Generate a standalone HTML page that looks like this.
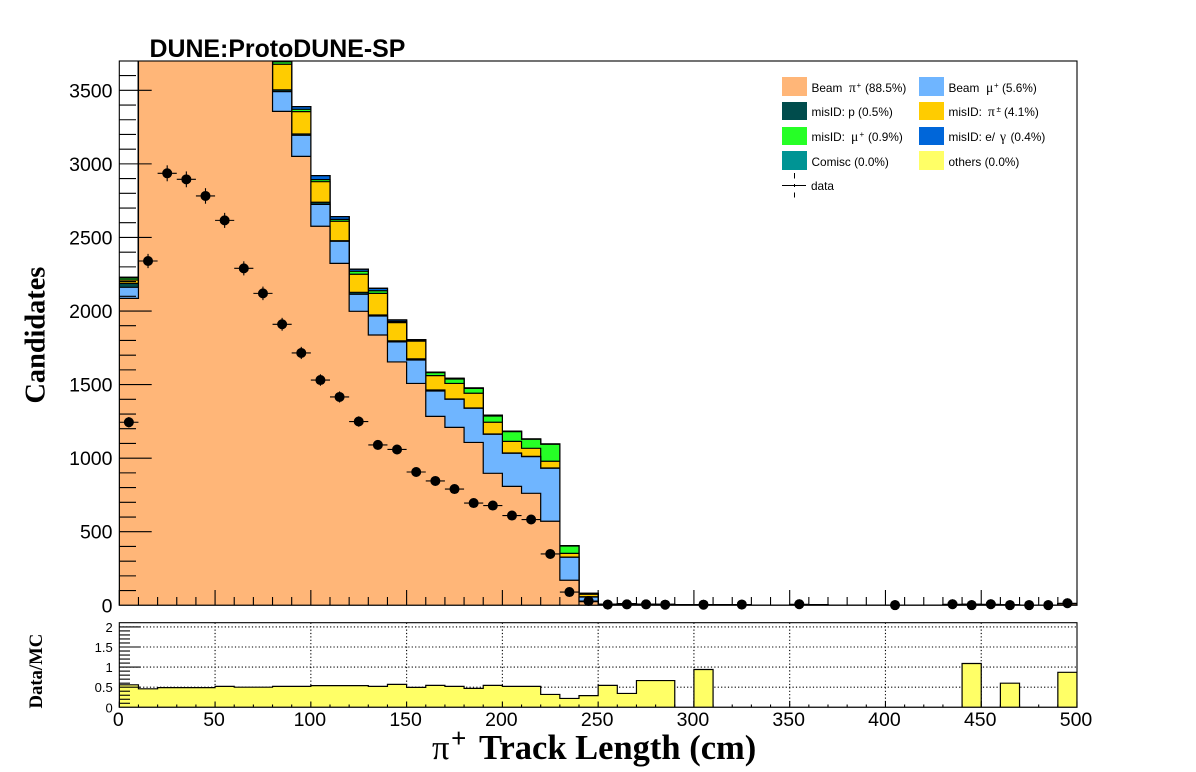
<!DOCTYPE html>
<html lang="en">
<head>
<meta charset="utf-8">
<title>DUNE ProtoDUNE-SP track length</title>
<style>
html,body{margin:0;padding:0;background:#fff;width:1196px;height:772px;overflow:hidden}
svg{display:block}
text{fill:#000;font-family:"Liberation Sans",sans-serif}
.leg{font-size:11.8px}
.sym{font-family:"Liberation Serif",serif;font-size:13.5px}
</style>
</head>
<body>
<svg id="chart" xmlns="http://www.w3.org/2000/svg" width="1196" height="772" viewBox="0 0 1196 772">
  <defs>
    <clipPath id="mainClip"><rect x="119.3" y="61" width="957.7" height="544.3"/></clipPath>
    <clipPath id="ratioClip"><rect x="119.3" y="622.7" width="957.7" height="84.6"/></clipPath>
  </defs>
  <rect width="1196" height="772" fill="#fff"/>
  <g id="mainHist" clip-path="url(#mainClip)"></g>
  <g id="mainTicks"></g>
  <g id="dataPoints" clip-path="url(#mainClip)"></g>
  <rect x="119.3" y="61" width="957.7" height="544.3" fill="none" stroke="#000" stroke-width="1.1"/>
  <g id="mainLabels"></g>

  <g id="ratioHist" clip-path="url(#ratioClip)"></g>
  <g id="ratioGrid"></g>
  <g id="ratioTicks"></g>
  <rect x="119.3" y="622.7" width="957.7" height="84.6" fill="none" stroke="#000" stroke-width="1.1"/>
  <g id="ratioLabels"></g>

  <text x="149.5" y="57" font-size="24.9" font-weight="700">DUNE:ProtoDUNE-SP</text>
  <text transform="translate(44.5,403.5) rotate(-90)" font-size="28.3" font-weight="700" style="font-family:'Liberation Serif',serif">Candidates</text>
  <text transform="translate(42,708.5) rotate(-90)" font-size="18.7" font-weight="700" style="font-family:'Liberation Serif',serif">Data/MC</text>
  <text y="759" font-size="34.5" font-weight="700" style="font-family:'Liberation Serif',serif"><tspan x="432" font-weight="400">π</tspan><tspan x="451" font-size="27" font-weight="700" dy="-12">+</tspan><tspan x="479" dy="12">Track Length (cm)</tspan></text>

  <g>
    <rect x="782" y="77" width="25" height="19" fill="#ffb678"/>
    <text class="leg" x="811.5" y="92">Beam<tspan class="sym" x="849">π</tspan><tspan font-size="8" x="856.5" dy="-4">+</tspan><tspan x="865" dy="4">(88.5%)</tspan></text>
    <rect x="919" y="77" width="25" height="19" fill="#6fb5ff"/>
    <text class="leg" x="948.5" y="92">Beam<tspan class="sym" x="986">μ</tspan><tspan font-size="8" x="994" dy="-4">+</tspan><tspan x="1002" dy="4">(5.6%)</tspan></text>
    <rect x="782" y="102" width="25" height="18" fill="#004c4c"/>
    <text class="leg" x="811.5" y="116">misID: p (0.5%)</text>
    <rect x="919" y="102" width="25" height="18" fill="#ffcc00"/>
    <text class="leg" x="948.5" y="116">misID:<tspan class="sym" x="988">π</tspan><tspan font-size="8" x="996.5" dy="-4">±</tspan><tspan x="1004" dy="4">(4.1%)</tspan></text>
    <rect x="782" y="127" width="25" height="18" fill="#26ff26"/>
    <text class="leg" x="811.5" y="141">misID:<tspan class="sym" x="851">μ</tspan><tspan font-size="8" x="859.5" dy="-4">+</tspan><tspan x="868" dy="4">(0.9%)</tspan></text>
    <rect x="919" y="127" width="25" height="18" fill="#0066d9"/>
    <text class="leg" x="948.5" y="141">misID: e/<tspan class="sym" x="1000">γ</tspan><tspan x="1010.5">(0.4%)</tspan></text>
    <rect x="782" y="151" width="25" height="19" fill="#009494"/>
    <text class="leg" x="811.5" y="166">Comisc (0.0%)</text>
    <rect x="919" y="151" width="25" height="19" fill="#ffff66"/>
    <text class="leg" x="948.5" y="166">others (0.0%)</text>
    <g stroke="#000" stroke-width="1" shape-rendering="crispEdges">
      <line x1="782" x2="806" y1="185.5" y2="185.5"/>
      <line x1="794.5" x2="794.5" y1="173" y2="178.5"/>
      <line x1="794.5" x2="794.5" y1="192.5" y2="197.5"/>
      <line x1="794.5" x2="794.5" y1="184" y2="187"/>
    </g>
    <text class="leg" x="811" y="190">data</text>
  </g>
</svg>
<script>
// Chart data: 10 cm bins from 0 to 500 cm
const beamPion = [2086,4700,5500,5400,5200,4600,4200,3850,3357,3051,2576,2324,1998,1837,1654,1508,1284,1209,1107,897,808,761,571,170,25,8,10,8,6,3,4,3,2,0,0,4,3,0,0,0,0,0,0,3,6,3,2,0,0,10];
const beamMuon = [75,320,330,330,320,300,280,260,134,143,149,150,116,129,136,159,172,191,232,265,225,249,360,156,31,0,0,0,0,0,0,0,0,0,0,0,0,0,0,0,0,0,0,0,0,0,0,0,0,0];
const misIdProton = [27,30,30,30,30,30,25,20,12,9,14,4,13,7,7,8,7,2,2,2,2,2,2,2,2,0,0,0,0,0,0,0,0,0,0,0,0,0,0,0,0,0,0,0,0,0,0,0,0,0];
const misIdPion = [23,200,210,210,200,190,180,170,174,152,140,132,123,147,124,120,98,106,100,80,79,55,46,25,17,0,0,0,0,0,0,0,0,0,0,0,0,0,0,0,0,0,0,0,0,0,0,0,0,0];
const misIdMuon = [13,30,30,30,25,25,20,20,17,16,14,13,20,18,8,5,20,30,33,42,66,61,115,50,4,0,0,0,0,0,0,0,0,0,0,0,0,0,0,0,0,0,0,0,0,0,0,0,0,0];
const misIdElectronGamma = [5,20,20,20,20,20,20,20,26,18,27,18,14,16,10,5,4,4,3,7,3,2,2,2,2,0,0,0,0,0,0,0,0,0,0,0,0,0,0,0,0,0,0,0,0,0,0,0,0,0];
const cosmic = [0,0,0,0,0,0,0,0,0,0,0,0,0,0,0,0,0,0,0,0,0,0,0,0,0,0,0,0,0,0,0,0,0,0,0,0,0,0,0,0,0,0,0,0,0,0,0,0,0,0];
const others = [0,0,0,0,0,0,0,0,0,0,0,0,0,0,0,0,0,0,0,0,0,0,0,0,0,0,0,0,0,0,0,0,0,0,0,0,0,0,0,0,0,0,0,0,0,0,0,0,0,0];
const dataCounts = [1244,2340,2936,2895,2782,2616,2290,2120,1910,1715,1531,1416,1249,1090,1059,906,845,790,695,678,610,583,349,90,29,5,6,6,4,0,4,0,5,0,0,7,0,0,0,0,1,0,0,7,1,7,1,1,1,14];
const ratioValues = [0.56,0.46,0.49,0.49,0.49,0.52,0.50,0.50,0.52,0.52,0.54,0.54,0.54,0.52,0.57,0.495,0.545,0.52,0.47,0.545,0.52,0.52,0.32,0.22,0.29,0.545,0.345,0.665,0.665,0,0.94,0,0,0,0,0,0,0,0,0,0,0,0,0,1.09,0,0.6,0,0,0.87];
const mainYTicks = [0,500,1000,1500,2000,2500,3000,3500];
const ratioYTicks = [0,0.5,1,1.5,2];
const xTicks = [0,50,100,150,200,250,300,350,400,450,500];
const binWidth = 10;

const NS = 'http://www.w3.org/2000/svg';
const xScale = v => 119.3 + v * 957.7 / 500;
const yMain = v => 605.3 - v * 0.14714;
const yRatio = v => 707.3 - v * 40.2;
const $ = id => document.getElementById(id);

function make(tag, parent, attrs) {
  const el = document.createElementNS(NS, tag);
  for (const k in attrs) el.setAttribute(k, attrs[k]);
  parent.appendChild(el);
  return el;
}
function stepPath(values, yFn) {
  let d = 'M' + xScale(0) + ' ' + yFn(0);
  values.forEach((v, i) => {
    d += 'L' + xScale(i * binWidth) + ' ' + yFn(v) + 'L' + xScale((i + 1) * binWidth) + ' ' + yFn(v);
  });
  return d + 'L' + xScale(values.length * binWidth) + ' ' + yFn(0) + 'Z';
}

// Stacked histogram, bottom series listed first, painted from the tallest down
const stackSeries = [
  {id: 'beam-pion', values: beamPion, color: '#ffb678'},
  {id: 'beam-muon', values: beamMuon, color: '#6fb5ff'},
  {id: 'misid-proton', values: misIdProton, color: '#004c4c'},
  {id: 'misid-pion', values: misIdPion, color: '#ffcc00'},
  {id: 'misid-muon', values: misIdMuon, color: '#26ff26'},
  {id: 'misid-electron-gamma', values: misIdElectronGamma, color: '#0066d9'},
  {id: 'cosmic', values: cosmic, color: '#009494'},
  {id: 'others', values: others, color: '#ffff66'}
];
let running = beamPion.map(() => 0);
const cumulative = stackSeries.map(s => {
  running = running.map((t, i) => t + s.values[i]);
  return {id: s.id, color: s.color, tops: running};
});
cumulative.reverse().forEach(s => {
  const p = make('path', $('mainHist'), {d: stepPath(s.tops, yMain), fill: s.color, stroke: '#000', 'stroke-width': 1.2});
  
  
});

// Main axis ticks
for (let v = 100; v < 3700; v += 100) {
  const major = v % 500 === 0;
  const t = make('line', $('mainTicks'), {x1: 119.3, x2: major ? 151.7 : 136, y1: yMain(v), y2: yMain(v), stroke: '#000', 'stroke-width': 1.1});
  
  
}
for (let v = 0; v <= 500; v += 10) {
  const major = v % 50 === 0;
  const t = make('line', $('mainTicks'), {x1: xScale(v), x2: xScale(v), y1: 605.3, y2: major ? 590 : 597, stroke: '#000', 'stroke-width': 1.1});
  
  
}
mainYTicks.forEach(v => {
  const t = make('text', $('mainLabels'), {x: 112.5, y: yMain(v) + 7, 'text-anchor': 'end', 'font-size': 19.5});
  t.textContent = v;
  
  
});

// Data points with error bars
dataCounts.forEach((n, i) => {
  if (n <= 0) return;
  const cx = xScale((i + 0.5) * binWidth);
  const cy = yMain(n);
  const err = Math.sqrt(n);
  const h = make('line', $('dataPoints'), {x1: xScale(i * binWidth), x2: xScale((i + 1) * binWidth), y1: cy, y2: cy, stroke: '#000', 'stroke-width': 1.1});
  
  
  const v = make('line', $('dataPoints'), {x1: cx, x2: cx, y1: yMain(n + err), y2: yMain(n - err), stroke: '#000', 'stroke-width': 1.1});
  
  
  const c = make('circle', $('dataPoints'), {cx: cx, cy: cy, r: 5, fill: '#000'});
  
  
});
// Points on the axis are not clipped in the reference
dataCounts.forEach((n, i) => {
  if (n <= 0 || n > 40) return;
  const c = make('circle', $('chart'), {cx: xScale((i + 0.5) * binWidth), cy: yMain(n), r: 5, fill: '#000'});
  
  
});

// Ratio panel
const ratioPath = make('path', $('ratioHist'), {d: stepPath(ratioValues, yRatio), fill: '#ffff66', stroke: '#000', 'stroke-width': 1.2});



[0.5, 1, 1.5, 2].forEach(v => {
  const g = make('line', $('ratioGrid'), {x1: 119.3, x2: 1077, y1: yRatio(v), y2: yRatio(v), stroke: '#000', 'stroke-width': 1.1, 'stroke-dasharray': '1.2 2.2'});
  
  
});
xTicks.slice(1, -1).forEach(v => {
  const g = make('line', $('ratioGrid'), {x1: xScale(v), x2: xScale(v), y1: 622.7, y2: 707.3, stroke: '#000', 'stroke-width': 1.1, 'stroke-dasharray': '1.2 2.2'});
  
  
});
// Bars sit over the grid
$('ratioGrid').parentNode.insertBefore($('ratioGrid'), $('ratioHist'));

for (let k = 1; k <= 20; k++) {
  const v = k / 10;
  const major = k % 5 === 0;
  const t = make('line', $('ratioTicks'), {x1: 119.3, x2: major ? 140.5 : 130, y1: yRatio(v), y2: yRatio(v), stroke: '#000', 'stroke-width': 1.1});
  
  
}
for (let v = 0; v <= 500; v += 10) {
  const major = v % 50 === 0;
  const t = make('line', $('ratioTicks'), {x1: xScale(v), x2: xScale(v), y1: 707.3, y2: major ? 701.5 : 704.5, stroke: '#000', 'stroke-width': 1.1});
  
  
}
ratioYTicks.forEach(v => {
  const t = make('text', $('ratioLabels'), {x: 112.7, y: yRatio(v) + 5, 'text-anchor': 'end', 'font-size': 13});
  t.textContent = v;
  
  
});
xTicks.forEach(v => {
  const t = make('text', $('ratioLabels'), {x: xScale(v) - 1, y: 726, 'text-anchor': 'middle', 'font-size': 19.5});
  t.textContent = v;
  
  
});
</script>
</body>
</html>
